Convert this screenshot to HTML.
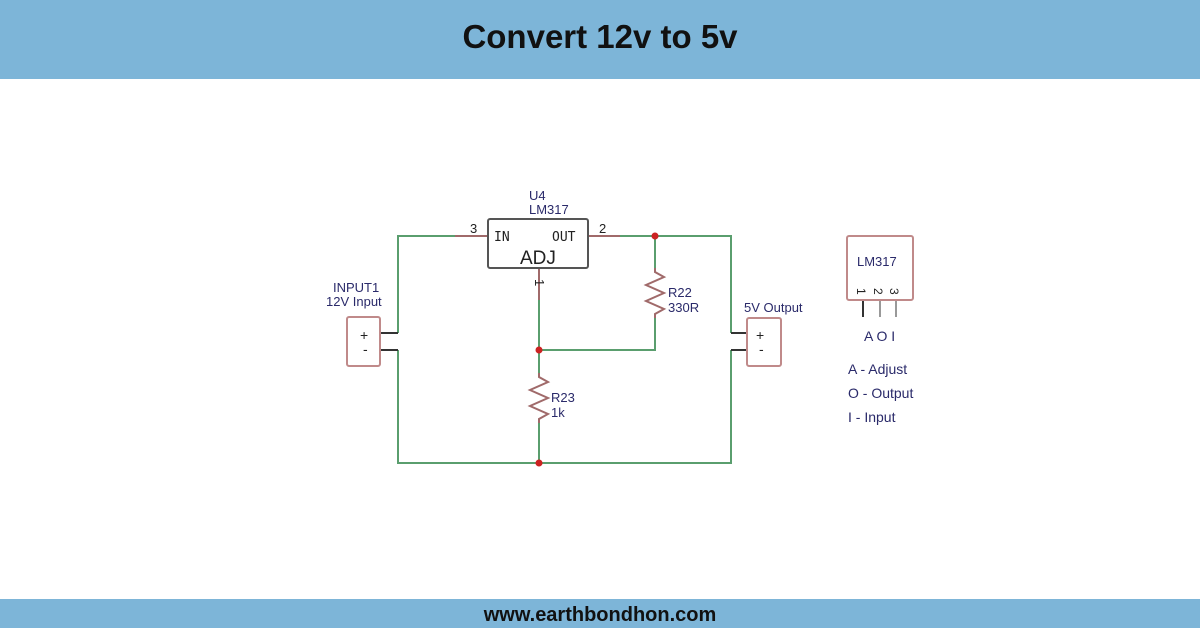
<!DOCTYPE html>
<html><head><meta charset="utf-8"><style>
html,body{margin:0;padding:0;background:#fff;}
svg{display:block;}
</style></head><body>
<svg width="1200" height="628" xmlns="http://www.w3.org/2000/svg" font-family="Liberation Sans, sans-serif">
<rect x="0" y="0" width="1200" height="79" fill="#7db5d8"/>
<text x="600" y="48" text-anchor="middle" font-size="33" font-weight="bold" fill="#111">Convert 12v to 5v</text>
<rect x="0" y="599" width="1200" height="29" fill="#7db5d8"/>
<text x="600" y="621" text-anchor="middle" font-size="20" font-weight="bold" fill="#111">www.earthbondhon.com</text>

<g fill="none" stroke-width="2">
<g stroke="#5a9e6e">
<polyline points="455,236 398,236 398,333"/>
<polyline points="398,350 398,463 731,463 731,350"/>
<polyline points="620,236 731,236 731,333"/>
<polyline points="655,236 655,268"/>
<polyline points="655,318 655,350 539,350"/>
<polyline points="539,300 539,373"/>
<polyline points="539,423 539,463"/>
</g>
<g stroke="#a06a6a">
<line x1="455" y1="236" x2="488" y2="236"/>
<line x1="588" y1="236" x2="620" y2="236"/>
<line x1="539" y1="268" x2="539" y2="300"/>
<polyline points="655,268 655,272 664,277 646,285 664,293 646,301 664,309 655,314 655,318"/>
<polyline points="539,373 539,377 548,382 530,390 548,398 530,406 548,414 539,419 539,423"/>
</g>
<g stroke="#333">
<line x1="380" y1="333" x2="398" y2="333"/>
<line x1="380" y1="350" x2="398" y2="350"/>
<line x1="731" y1="333" x2="747" y2="333"/>
<line x1="731" y1="350" x2="747" y2="350"/>
<line x1="863" y1="300" x2="863" y2="317"/>
<line x1="880" y1="300" x2="880" y2="317" stroke="#999"/>
<line x1="896" y1="300" x2="896" y2="317" stroke="#999"/>
</g>
<rect x="347" y="317" width="33" height="49" rx="2" stroke="#c08a8a"/>
<rect x="747" y="318" width="34" height="48" rx="2" stroke="#c08a8a"/>
<rect x="488" y="219" width="100" height="49" rx="2" stroke="#555"/>
<rect x="847" y="236" width="66" height="64" rx="2" stroke="#c08a8a"/>
</g>
<g fill="#cc2222">
<circle cx="655" cy="236" r="3.5"/>
<circle cx="539" cy="350" r="3.5"/>
<circle cx="539" cy="463" r="3.5"/>
</g>
<g fill="#2a2a6a" font-size="13">
<text x="529" y="200">U4</text>
<text x="529" y="214">LM317</text>
<text x="333" y="292">INPUT1</text>
<text x="326" y="306">12V Input</text>
<text x="668" y="297">R22</text>
<text x="668" y="312">330R</text>
<text x="551" y="402">R23</text>
<text x="551" y="417">1k</text>
<text x="744" y="312">5V Output</text>
<text x="857" y="266">LM317</text>
<text x="864" y="341" font-size="14">A O I</text>
<text x="848" y="374" font-size="14">A - Adjust</text>
<text x="848" y="398" font-size="14">O - Output</text>
<text x="848" y="422" font-size="14">I - Input</text>
</g>
<g fill="#222" font-size="13">
<text x="470" y="233">3</text>
<text x="599" y="233">2</text>
<text x="494" y="241" font-family="DejaVu Sans Mono, monospace" font-size="13">IN</text>
<text x="552" y="241" font-family="DejaVu Sans Mono, monospace" font-size="13">OUT</text>
<text x="520" y="264" font-size="19">ADJ</text>
<text x="530" y="284" transform="rotate(90 535 284)">1</text>
<text x="360" y="340" font-size="14">+</text>
<text x="363" y="354" font-size="14">-</text>
<text x="756" y="340" font-size="14">+</text>
<text x="759" y="354" font-size="14">-</text>
<text x="857" y="298" transform="rotate(90 862 293)" font-size="12">1</text>
<text x="874" y="298" transform="rotate(90 879 293)" font-size="12">2</text>
<text x="890" y="298" transform="rotate(90 895 293)" font-size="12">3</text>
</g>
</svg>
</body></html>
